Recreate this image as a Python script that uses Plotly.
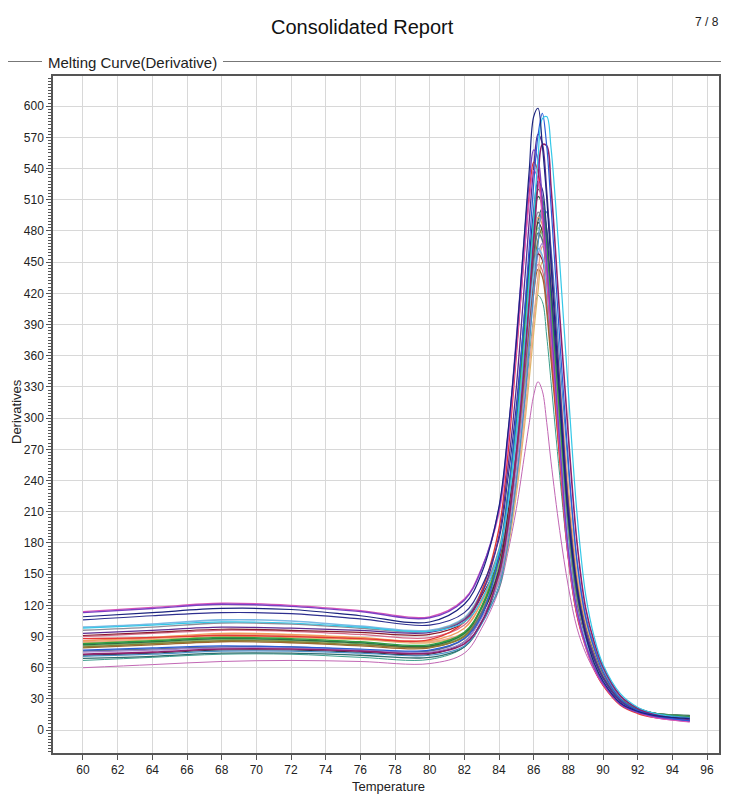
import plotly.graph_objects as go

temperature = [60, 64, 68, 72, 76, 80, 82, 83, 84, 84.5, 85, 85.5, 85.75, 86, 86.25,
               86.5, 86.75, 87, 87.5, 88, 88.5, 89, 89.5, 90, 91, 92, 93, 95]

navy = [109, 113, 117, 116, 110, 104, 121, 151, 215, 284, 374, 485, 540, 590, 598, 562, 512, 448, 322, 207, 137, 91, 64, 47, 26, 18, 14, 11]
pink = [114, 118, 122, 120, 115, 109, 126, 156, 209, 274, 365, 465, 510, 538, 530, 490, 435, 380, 271, 166, 112, 80, 58, 44, 25, 17, 12, 8]
violet = [113, 117, 121, 119, 114, 108, 125, 155, 213, 281, 377, 481, 528, 558, 549, 508, 450, 393, 277, 172, 115, 82, 60, 45, 25, 17, 13, 9]
indigo = [106, 110, 113, 112, 107, 101, 113, 138, 184, 240, 312, 406, 455, 500, 528, 520, 480, 426, 316, 204, 133, 93, 68, 50, 28, 19, 15, 11]
lightblue = [99, 102, 106, 105, 100, 96, 108, 133, 168, 216, 277, 358, 401, 439, 463, 456, 422, 375, 281, 180, 117, 86, 65, 48, 27, 18, 14, 10]
cyan = [98, 101, 104, 103, 99, 95, 104, 125, 172, 215, 286, 379, 435, 493, 550, 588, 590, 560, 450, 325, 208, 130, 89, 63, 35, 22, 16, 11]
gray = [96, 99, 103, 102, 98, 95, 107, 132, 174, 226, 294, 383, 430, 472, 498, 491, 453, 402, 298, 194, 126, 91, 68, 50, 28, 20, 16, 13]
purple = [93, 96, 99, 98, 96, 94, 106, 131, 187, 250, 330, 436, 491, 541, 573, 564, 519, 458, 336, 216, 138, 96, 70, 51, 28, 19, 14, 10]
darkred = [91, 94, 97, 96, 94, 92, 104, 129, 164, 211, 273, 354, 396, 434, 458, 452, 417, 371, 277, 182, 120, 88, 66, 49, 28, 19, 15, 11]
red = [88, 89, 91, 90, 88, 87, 104, 134, 194, 263, 361, 468, 516, 546, 537, 495, 436, 377, 260, 165, 110, 80, 58, 43, 24, 16, 12, 9]
orange = [86, 89, 93, 92, 89, 86, 98, 123, 166, 219, 287, 377, 424, 467, 493, 486, 448, 396, 291, 192, 125, 90, 67, 49, 28, 19, 14, 11]
salmon = [85, 88, 92, 91, 88, 85, 94, 115, 145, 179, 234, 306, 350, 394, 436, 465, 464, 432, 337, 234, 151, 105, 78, 57, 32, 21, 16, 12]
green = [83, 86, 89, 88, 85, 82, 94, 119, 168, 225, 298, 395, 446, 492, 520, 512, 471, 415, 303, 200, 130, 93, 69, 51, 29, 20, 16, 13]
darkgreen = [82, 85, 88, 87, 84, 81, 93, 118, 165, 222, 294, 390, 440, 485, 513, 505, 465, 410, 299, 199, 130, 93, 69, 51, 29, 20, 16, 14]
lightgreen = [81, 84, 87, 86, 83, 80, 92, 117, 159, 211, 279, 368, 415, 457, 483, 476, 438, 387, 283, 188, 123, 89, 67, 49, 28, 19, 15, 12]
olive = [80, 83, 86, 85, 82, 80, 90, 113, 151, 196, 260, 344, 390, 436, 471, 482, 463, 420, 317, 218, 141, 98, 72, 53, 30, 21, 16, 13]
brown = [79, 82, 85, 84, 81, 79, 91, 116, 150, 198, 259, 339, 381, 420, 443, 436, 403, 356, 263, 175, 116, 85, 64, 48, 27, 19, 15, 12]
blue = [77, 79, 81, 80, 78, 77, 88, 110, 167, 223, 304, 409, 467, 525, 572, 593, 562, 504, 376, 258, 162, 108, 78, 56, 30, 19, 14, 9]
slate = [76, 78, 80, 80, 77, 76, 88, 113, 155, 207, 274, 363, 410, 452, 478, 471, 433, 382, 279, 185, 122, 89, 67, 50, 29, 20, 16, 13]
lightpurple = [75, 77, 79, 79, 77, 75, 85, 108, 144, 188, 251, 332, 378, 422, 457, 468, 449, 406, 307, 210, 137, 96, 71, 52, 29, 19, 14, 10]
magenta = [73, 75, 78, 78, 76, 74, 83, 104, 151, 195, 266, 359, 415, 472, 526, 563, 562, 522, 399, 283, 180, 117, 84, 61, 33, 21, 15, 9]
black = [72, 74, 77, 77, 75, 73, 85, 110, 154, 208, 278, 369, 418, 461, 488, 480, 442, 389, 282, 190, 124, 90, 67, 50, 28, 19, 15, 12]
sky = [71, 73, 76, 76, 74, 72, 81, 102, 139, 177, 239, 320, 370, 420, 467, 499, 498, 463, 356, 252, 163, 110, 80, 59, 32, 21, 16, 12]
teal = [67, 70, 73, 73, 70, 68, 80, 105, 136, 182, 241, 318, 359, 396, 418, 412, 379, 335, 245, 165, 110, 82, 62, 46, 26, 18, 14, 11]
darkteal = [69, 71, 74, 74, 72, 70, 80, 103, 146, 194, 264, 353, 403, 452, 490, 502, 482, 435, 325, 226, 146, 100, 74, 54, 30, 21, 16, 14]
thinpink = [60, 63, 66, 67, 66, 64, 74, 98, 135, 170, 213, 268, 296, 322, 335, 326, 296, 258, 192, 138, 98, 74, 57, 43, 25, 17, 12, 8]
rose = [90, 93, 96, 95, 92, 89, 101, 126, 159, 206, 266, 346, 387, 425, 448, 442, 408, 362, 270, 178, 118, 87, 65, 48, 27, 18, 14, 10]
gold = [84, 87, 90, 89, 87, 84, 93, 114, 142, 174, 227, 297, 339, 382, 422, 450, 449, 419, 327, 226, 146, 102, 76, 56, 31, 21, 16, 12]

series = [
    ("A1", thinpink, "#c267b4", 1.0),
    ("A2", teal, "#3a9e8c", 1.0),
    ("A3", darkteal, "#2f6f6f", 1.3),
    ("A4", gold, "#e0b86a", 1.3),
    ("A5", rose, "#d46a8a", 1.2),
    ("A6", brown, "#a0652d", 1.3),
    ("A7", salmon, "#eda98c", 1.4),
    ("A8", lightgreen, "#7cc576", 1.3),
    ("A9", olive, "#8a7d35", 1.5),
    ("A10", darkgreen, "#2e6b44", 1.5),
    ("A11", slate, "#5d6f86", 1.5),
    ("A12", black, "#333333", 1.1),
    ("A13", lightpurple, "#a283cf", 1.3),
    ("A14", orange, "#f29b5c", 1.4),
    ("A15", darkred, "#8b1c2c", 1.2),
    ("A16", lightblue, "#7ab9e3", 1.6),
    ("A17", gray, "#8d8d99", 1.4),
    ("A18", green, "#2e9e44", 1.4),
    ("A19", sky, "#4a90c8", 1.2),
    ("A20", red, "#e53935", 1.4),
    ("A21", indigo, "#2d2f8f", 1.2),
    ("A22", purple, "#5b2c91", 1.3),
    ("A23", magenta, "#8e1f6e", 1.6),
    ("A24", pink, "#d957b8", 1.3),
    ("A25", violet, "#7b3fc4", 1.4),
    ("A26", blue, "#2a5bd7", 1.2),
    ("A27", cyan, "#35c8e8", 1.2),
    ("A28", navy, "#1a237e", 1.2),
]

fig = go.Figure()
for name, vals, color, width in series:
    fig.add_trace(go.Scatter(
        x=temperature, y=vals, mode="lines", name=name,
        line=dict(color=color, width=width, shape="spline", smoothing=1.0),
        showlegend=False, hoverinfo="skip",
    ))

font_family = "Liberation Sans, Arial, sans-serif"
axis_common = dict(
    showgrid=True, gridcolor="#d8d8d8", gridwidth=1,
    showline=True, linecolor="#555555", linewidth=1.5, mirror=True,
    ticks="outside", ticklen=5, tickcolor="#555555", tickwidth=1,
    zeroline=False, tickfont=dict(family=font_family, size=12, color="#222222"),
)

fig.update_xaxes(range=[58.27, 96.69], dtick=2, tick0=60, **axis_common)
fig.update_yaxes(range=[-22, 629], dtick=30, tick0=0,
                 minor=dict(dtick=3, ticks="outside", ticklen=3, tickcolor="#555555", showgrid=False),
                 **axis_common)

# the page body adds an 8px offset; work in page pixels and convert
OFF = 8
W, H = 754 - OFF, 806 - OFF
L, T = 53 - OFF, 76 - OFF
R = W - (719 - OFF)
B = H - (753 - OFF)
pw, ph = W - L - R, H - T - B


def px(xp):
    return (xp - OFF - L) / pw


def py(yp):
    return (H - B - (yp - OFF)) / ph


annotations = [
    dict(text="Consolidated Report", x=px(362), y=py(27), xref="paper", yref="paper",
         showarrow=False, xanchor="center", yanchor="middle",
         font=dict(family=font_family, size=20, color="#111111")),
    dict(text="7 / 8", x=px(721), y=py(22), xref="paper", yref="paper",
         showarrow=False, xanchor="right", yanchor="middle",
         font=dict(family=font_family, size=12, color="#222222")),
    dict(text="Melting Curve(Derivative)", x=px(46), y=py(63), xref="paper", yref="paper",
         showarrow=False, xanchor="left", yanchor="middle",
         font=dict(family=font_family, size=15, color="#222222")),
    dict(text="Derivatives", x=px(16), y=py(412), xref="paper", yref="paper",
         showarrow=False, xanchor="center", yanchor="middle", textangle=-90,
         font=dict(family=font_family, size=13, color="#222222")),
    dict(text="Temperature", x=px(388), y=py(786), xref="paper", yref="paper",
         showarrow=False, xanchor="center", yanchor="middle",
         font=dict(family=font_family, size=13, color="#222222")),
]

shapes = [
    dict(type="line", xref="paper", yref="paper", x0=px(3), x1=px(42), y0=py(61.5), y1=py(61.5),
         line=dict(color="#777777", width=1)),
    dict(type="line", xref="paper", yref="paper", x0=px(223), x1=px(721), y0=py(61.5), y1=py(61.5),
         line=dict(color="#777777", width=1)),
]

fig.update_layout(
    width=W, height=H,
    margin=dict(l=L, r=R, t=T, b=B, pad=0),
    paper_bgcolor="white", plot_bgcolor="white",
    annotations=annotations, shapes=shapes,
    font=dict(family=font_family),
)

fig.write_html("out.html")
